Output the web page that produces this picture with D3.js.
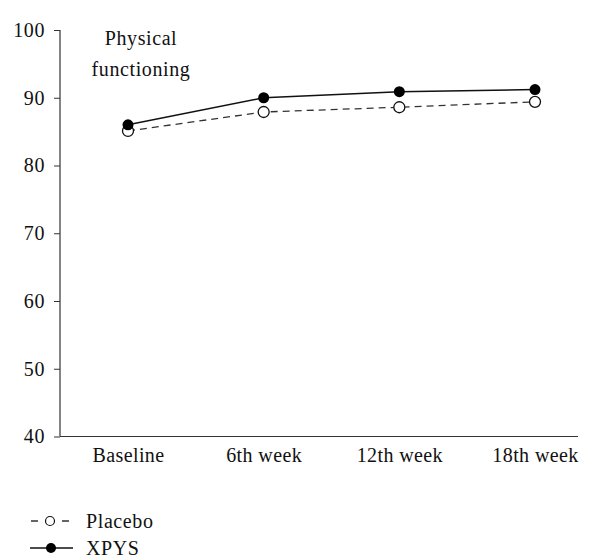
<!DOCTYPE html>
<html><head><meta charset="utf-8">
<script src="https://cdn.jsdelivr.net/npm/d3@7"></script>
<style>body{margin:0;background:#fff}svg{display:block}text{font-family:"Liberation Serif","DejaVu Serif",serif;fill:#111}</style>
</head><body>
<script>
const categories = ["Baseline","6th week","12th week","18th week"];
const placebo = [85.1, 87.9, 88.6, 89.4];
const xpys = [86.0, 90.0, 90.9, 91.2];
const yTicks = [40,50,60,70,80,90,100];
const seriesNames = ["Placebo","XPYS"];

const W=600,H=560, FS=20;
const svg=d3.select("body").append("svg").attr("width",W).attr("height",H);
const x0=60, x1=578, yTop=30, yBot=436.5;
const x=d3.scalePoint().domain(categories).range([128,535]);
const y=d3.scaleLinear().domain([40,100]).range([yBot,yTop]);

const yAxis=svg.append("g").attr("transform",`translate(${x0},0)`)
  .call(d3.axisLeft(y).tickValues(yTicks).tickSize(6).tickPadding(9));
yAxis.select(".domain").attr("d",`M0,${yTop}V${yBot}`).attr("stroke","#333").attr("stroke-width",1.2);
yAxis.selectAll(".tick line").attr("stroke","#333");
yAxis.selectAll("text").attr("font-size",FS).style("font-family","'Liberation Serif',serif").attr("fill","#111").attr("letter-spacing","0.6");

const xAxis=svg.append("g").attr("transform",`translate(0,${yBot})`)
  .call(d3.axisBottom(x).tickSize(0).tickPadding(11));
xAxis.select(".domain").attr("d",`M${x0},0H${x1}`).attr("stroke","#333").attr("stroke-width",1.2);
xAxis.selectAll("text").attr("font-size",FS).style("font-family","'Liberation Serif',serif").attr("fill","#111").attr("letter-spacing","0.4");

const line=d3.line().x((d,i)=>x(categories[i])).y(d=>y(d));
svg.append("path").datum(placebo).attr("d",line).attr("fill","none").attr("stroke","#333").attr("stroke-width",1.3).attr("stroke-dasharray","7,5");
svg.append("path").datum(xpys).attr("d",line).attr("fill","none").attr("stroke","#111").attr("stroke-width",1.5);
svg.selectAll(".pp").data(placebo).enter().append("circle").attr("cx",(d,i)=>x(categories[i])).attr("cy",d=>y(d)).attr("r",5.5).attr("fill","#fff").attr("stroke","#111").attr("stroke-width",1.3);
svg.selectAll(".xp").data(xpys).enter().append("circle").attr("cx",(d,i)=>x(categories[i])).attr("cy",d=>y(d)).attr("r",5.5).attr("fill","#000");

svg.append("text").attr("x",141).attr("y",45).attr("text-anchor","middle").attr("font-size",FS).attr("letter-spacing","0.6").text("Physical");
svg.append("text").attr("x",141).attr("y",76).attr("text-anchor","middle").attr("font-size",FS).attr("letter-spacing","0.6").text("functioning");

// legend
const lg=svg.append("g");
lg.append("line").attr("x1",31).attr("x2",69).attr("y1",521).attr("y2",521).attr("stroke","#333").attr("stroke-width",1.3).attr("stroke-dasharray","7,8.5");
lg.append("circle").attr("cx",50).attr("cy",521).attr("r",4.5).attr("fill","#fff").attr("stroke","#111").attr("stroke-width",1.2);
lg.append("line").attr("x1",30).attr("x2",73).attr("y1",548).attr("y2",548).attr("stroke","#111").attr("stroke-width",1.5);
lg.append("circle").attr("cx",51).attr("cy",548).attr("r",5).attr("fill","#000");
lg.append("text").attr("x",86).attr("y",528).attr("font-size",FS).attr("letter-spacing","0.6").text(seriesNames[0]);
lg.append("text").attr("x",86).attr("y",555).attr("font-size",FS).attr("letter-spacing","0.6").text(seriesNames[1]);
</script>
</body></html>
